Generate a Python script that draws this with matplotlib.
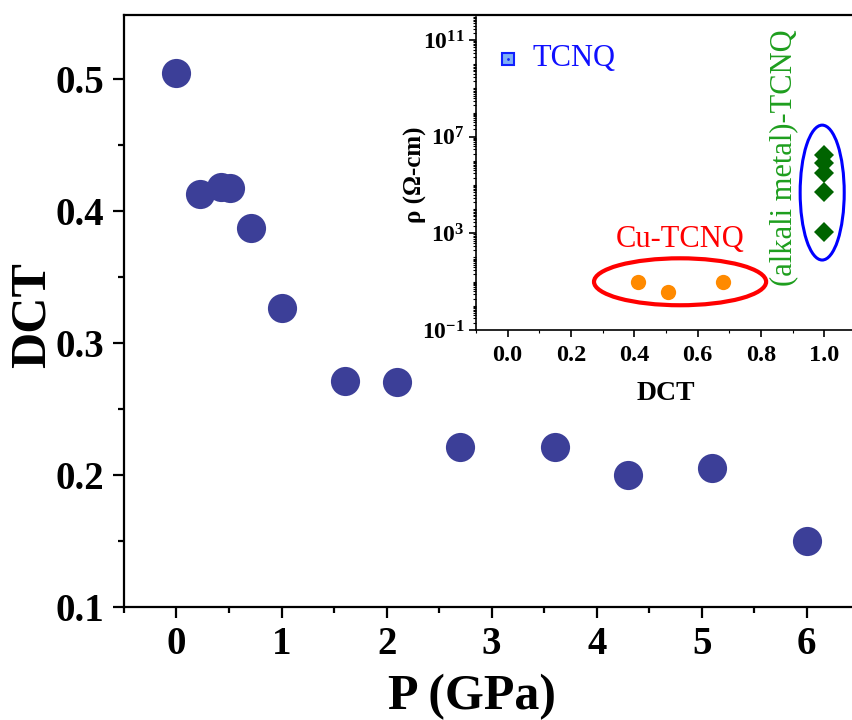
import numpy as np
import matplotlib
matplotlib.use("Agg")
import matplotlib.pyplot as plt
from matplotlib.patches import Ellipse
from matplotlib.ticker import MultipleLocator, FixedLocator, LogLocator, NullFormatter

matplotlib.rcParams['font.family'] = 'Liberation Serif'
matplotlib.rcParams['mathtext.fontset'] = 'custom'
matplotlib.rcParams['mathtext.rm'] = 'Liberation Serif'
matplotlib.rcParams['mathtext.bf'] = 'Liberation Serif:bold'

# DCT vs pressure
P = [0.0, 0.22, 0.42, 0.51, 0.71, 1.0, 1.6, 2.1, 2.7, 3.6, 4.3, 5.1, 6.0]
DCT = [0.504, 0.413, 0.418, 0.417, 0.387, 0.326, 0.271, 0.270,
       0.221, 0.221, 0.200, 0.205, 0.150]

# resistivity vs DCT for the TCNQ families
tcnq_dct = [0.0]
tcnq_rho = [1.7e10]
cu_dct = [0.41, 0.505, 0.68]
cu_rho = [10.0, 3.8, 10.0]
alk_dct = [1.0, 1.0, 1.0, 1.0, 1.0]
alk_rho = [1.7e6, 7.8e5, 3.0e5, 5.0e4, 1.15e3]

fig = plt.figure(figsize=(8.52, 7.2), dpi=100)
ax = fig.add_axes([0.1455, 0.1574, 0.8545, 0.8222])

ax.plot(P, DCT, linestyle='none', marker='o', markersize=21,
        color='#3c3f98', markeredgewidth=0)

ax.set_xlim(-0.5, 6.43)
ax.set_ylim(0.1, 0.5485)
ax.xaxis.set_major_locator(MultipleLocator(1))
ax.xaxis.set_minor_locator(MultipleLocator(0.5))
ax.yaxis.set_major_locator(MultipleLocator(0.1))
ax.yaxis.set_minor_locator(MultipleLocator(0.05))
ax.spines['right'].set_visible(False)
for s in ['left', 'bottom', 'top']:
    ax.spines[s].set_linewidth(1.6)
ax.tick_params(which='major', direction='out', length=8, width=1.6,
               labelsize=28, pad=6)
ax.tick_params(which='minor', direction='out', length=4, width=1.6)
for lab in ax.get_xticklabels() + ax.get_yticklabels():
    lab.set_fontweight('bold')

ax.set_xlabel("P (GPa)", fontsize=36, fontweight='bold')
ax.set_ylabel("DCT", fontsize=36, fontweight='bold')
ax.xaxis.set_label_coords(0.478, -0.114)
ax.yaxis.set_label_coords(-0.094, 0.493)

# inset: resistivity
ins = fig.add_axes([0.5587, 0.5417, 0.446, 0.4347])
ins.set_facecolor('white')
ins.set_yscale('log')

ins.plot(tcnq_dct, tcnq_rho, linestyle='none', marker='s', markersize=8,
         markerfacecolor='#7fb0f5', markeredgecolor='#1020ff', markeredgewidth=1.5)
ins.plot(tcnq_dct, tcnq_rho, linestyle='none', marker='.', markersize=2,
         color='#1020ff')
ins.plot(cu_dct, cu_rho, linestyle='none', marker='o', markersize=11,
         color='#ff8a00', markeredgewidth=0)
ins.plot(alk_dct, alk_rho, linestyle='none', marker='D', markersize=10,
         color='#006400', markeredgewidth=0)

ins.add_patch(Ellipse((0.537, 0.154), 0.453, 0.150, transform=ins.transAxes,
                      fill=False, edgecolor='#ff0000', linewidth=3))
ins.add_patch(Ellipse((0.911, 0.439), 0.116, 0.431, transform=ins.transAxes,
                      fill=False, edgecolor='#0000ff', linewidth=2.2))

ins.text(0.077, 10**10.25, "TCNQ", color='#1010ff', fontsize=22,
         ha='left', va='center')
ins.text(0.545, 10**2.76, "Cu-TCNQ", color='#ff0000', fontsize=22,
         ha='center', va='center')
ins.text(0.871, 10**6.12, "(alkali metal)-TCNQ", color='#1e9e1e', fontsize=22,
         ha='center', va='center', rotation=90)

ins.set_xlim(-0.1, 1.1)
ins.set_ylim(0.1, 9e11)
ins.xaxis.set_major_locator(MultipleLocator(0.2))
ins.xaxis.set_minor_locator(MultipleLocator(0.1))
ins.yaxis.set_major_locator(FixedLocator([1e-1, 1e3, 1e7, 1e11]))
ins.yaxis.set_minor_locator(LogLocator(base=10, subs=np.arange(1, 10), numticks=100))
ins.yaxis.set_minor_formatter(NullFormatter())
ins.set_yticklabels([r"$\mathbf{10^{-1}}$", r"$\mathbf{10^{3}}$",
                     r"$\mathbf{10^{7}}$", r"$\mathbf{10^{11}}$"])
ins.set_xticks([0.0, 0.2, 0.4, 0.6, 0.8, 1.0])
ins.set_xticklabels(["0.0", "0.2", "0.4", "0.6", "0.8", "1.0"],
                    fontweight='bold')
ins.spines['top'].set_visible(False)
ins.spines['right'].set_visible(False)
for s in ['left', 'bottom']:
    ins.spines[s].set_linewidth(1.2)
ins.tick_params(axis='x', which='major', direction='out', length=5, width=1.2,
                labelsize=17.5, pad=6)
ins.tick_params(axis='y', which='major', direction='out', length=5, width=1.2,
                labelsize=17, pad=3)
ins.tick_params(which='minor', direction='out', length=2.5, width=0.8)

ins.set_xlabel("DCT", fontsize=20, fontweight='bold')
ins.set_ylabel("ρ (Ω-cm)", fontsize=18, fontweight='bold')
ins.xaxis.set_label_coords(0.5, -0.163)
ins.yaxis.set_label_coords(-0.13, 0.497)

fig.savefig("out.png", dpi=100)
